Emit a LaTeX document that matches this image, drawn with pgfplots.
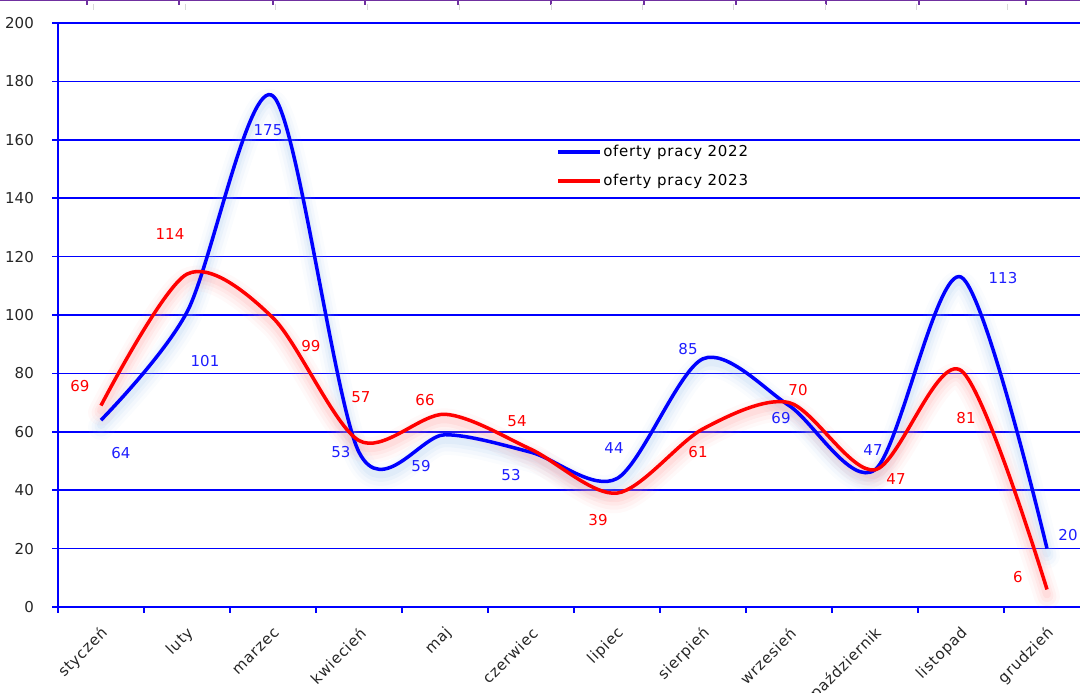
\documentclass[border=0pt]{standalone}
\usepackage{fontspec}
\setmainfont{DejaVu Sans}
\newfontfamily\widefont{DejaVu Sans}[LetterSpace=5]
\usepackage{pgfplots}
\usepackage{pgfplotstable}
\pgfplotsset{compat=1.18}

\definecolor{glowblue}{RGB}{150,190,235}
\definecolor{glowred}{RGB}{255,140,140}
\definecolor{topline}{RGB}{112,48,160}
\definecolor{lblblue}{RGB}{30,30,255}

% month, value, label offset (dx, dy in pt)
\pgfplotstableread{
x y dx dy
1 64 20 -33
2 101 18 -49
3 175 -5 -34
4 53 -18 0
5 59 -24 -31
6 53 -20 -23
7 44 -3 30
8 85 -15 10
9 69 -8 -13
10 47 -2 20
11 113 42 -1
12 20 21 14
}\oferty

\pgfplotstableread{
x y dx dy
1 69 -21 19
2 114 -17 40
3 99 38 -28
4 57 2 43
5 66 -20 14
6 54 -14 28
7 39 -19 -27
8 61 -5 -23
9 70 9 13
10 47 21 -9
11 81 5 -48
12 6 -29 12
}\ofertyb

\pgfplotsset{
  glow/.style={forget plot, smooth, line cap=round, line join=round},
}

\begin{document}
\begin{tikzpicture}
\path[use as bounding box] (0,0) rectangle (1080pt,693pt);
\clip (0,0) rectangle (1080pt,693pt);
\begin{axis}[
  at={(58pt,86pt)}, anchor=south west,
  scale only axis, width=1032pt, height=584pt,
  xmin=0.5, xmax=12.5, ymin=0, ymax=200,
  ytick={0,20,...,200},
  xtick={0.5,1.5,...,12.5},
  x tick label as interval,
  xticklabels={styczeń,luty,marzec,kwiecień,maj,czerwiec,lipiec,sierpień,wrzesień,październik,listopad,grudzień},
  axis lines=left,
  axis line style={-, blue, line width=1.6pt},
  ymajorgrids,
  major grid style={blue, line width=1.6pt},
  tick align=outside, major tick length=6pt,
  tick style={blue, line width=1.6pt},
  /pgf/number format/assume math mode=true,
  yticklabel style={anchor=east, inner sep=0pt, xshift=-18pt,
    font=\fontsize{15}{17}\selectfont, text=black!85},
  xticklabel style={rotate=45, anchor=east, inner sep=0pt, xshift=-9.7pt, yshift=-15.5pt,
    font=\widefont\fontsize{15}{17}\selectfont, text=black!85},
  legend style={at={(0.4826,0.793)}, anchor=north west, draw=none, fill=none,
    font=\widefont\fontsize{15}{17}\selectfont, row sep=13pt, inner sep=0pt,
    nodes={inner sep=1.5pt}},
  legend image code/.code={\draw[#1, line width=3.5pt] (0pt,0pt) -- (42pt,0pt);},
  clip=false,
]
% soft glow under the lines
\addplot[glow, draw=glowblue, line width=26pt, opacity=0.05, yshift=-7pt] table[x=x,y=y] {\oferty};
\addplot[glow, draw=glowblue, line width=19pt, opacity=0.07, yshift=-7pt] table[x=x,y=y] {\oferty};
\addplot[glow, draw=glowblue, line width=13pt, opacity=0.09, yshift=-6pt] table[x=x,y=y] {\oferty};
\addplot[glow, draw=glowblue, line width=8pt, opacity=0.12, yshift=-5pt] table[x=x,y=y] {\oferty};
\addplot[glow, draw=glowred, line width=26pt, opacity=0.05, yshift=-7pt] table[x=x,y=y] {\ofertyb};
\addplot[glow, draw=glowred, line width=19pt, opacity=0.07, yshift=-7pt] table[x=x,y=y] {\ofertyb};
\addplot[glow, draw=glowred, line width=13pt, opacity=0.09, yshift=-6pt] table[x=x,y=y] {\ofertyb};
\addplot[glow, draw=glowred, line width=8pt, opacity=0.12, yshift=-5pt] table[x=x,y=y] {\ofertyb};

\addplot[smooth, blue, line width=3.5pt] table[x=x,y=y] {\oferty};
\addlegendentry{oferty pracy 2022}
\addplot[smooth, red, line width=3.5pt] table[x=x,y=y] {\ofertyb};
\addlegendentry{oferty pracy 2023}

% data labels
\addplot[forget plot, draw=none, mark=none, nodes near coords,
  visualization depends on={\thisrow{dx} \as \dx},
  visualization depends on={\thisrow{dy} \as \dy},
  nodes near coords style={text=lblblue, anchor=center, inner sep=0pt,
    font=\fontsize{15}{17}\selectfont, xshift=\dx pt, yshift=\dy pt}]
  table[x=x,y=y] {\oferty};
\addplot[forget plot, draw=none, mark=none, nodes near coords,
  visualization depends on={\thisrow{dx} \as \dx},
  visualization depends on={\thisrow{dy} \as \dy},
  nodes near coords style={text=red, anchor=center, inner sep=0pt,
    font=\fontsize{15}{17}\selectfont, xshift=\dx pt, yshift=\dy pt}]
  table[x=x,y=y] {\ofertyb};
\end{axis}
% strip of the chart above
\draw[topline, line width=3pt] (0,693pt) -- (1080pt,693pt);
\foreach \t in {87,179,273,365,458,551,644,736,826,919,1026}
  \draw[topline, line width=1.5pt] (\t pt,693pt) -- (\t pt,688pt);
\foreach \t in {93,185,275,367,459,551,642,733,825,916,1007}
  \draw[black!15, line width=0.8pt] (\t pt,689pt) -- (\t pt,683pt);
\end{tikzpicture}
\end{document}
